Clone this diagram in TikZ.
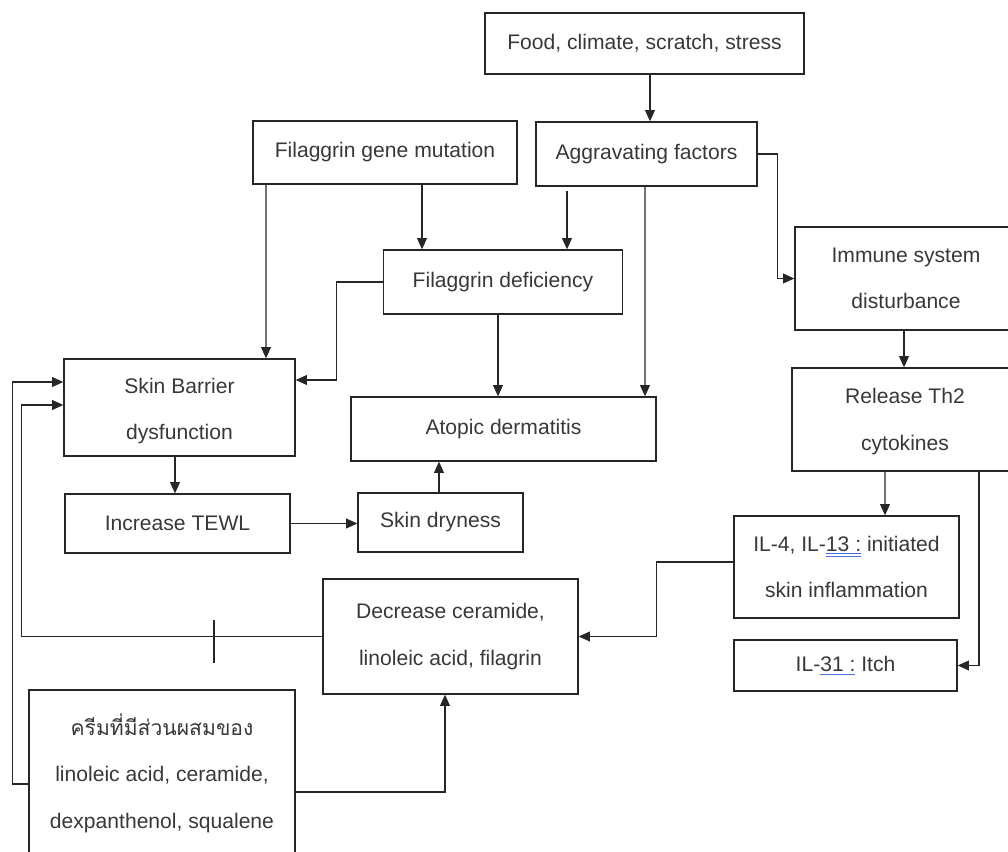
\documentclass[tikz,border=0pt]{standalone}
\usepackage{fontspec}
\setmainfont{Liberation Sans}
\newfontfamily\thaifont[Script=Thai]{Loma}
\usetikzlibrary{arrows.meta,calc,positioning}
\definecolor{gramblue}{RGB}{70,110,220}
\newcommand{\gramdbl}[1]{{\color{gramblue}\underline{\underline{\textcolor{black!78}{#1}}}}}
\newcommand{\gramone}[1]{{\color{gramblue}\underline{\textcolor{black!78}{#1}}}}

\begin{document}
\begin{tikzpicture}[x=0.025cm, y=-0.025cm,
        box/.style={draw=black!85, line width=0.9pt, rectangle, inner sep=0pt, align=center, text=black!78, font=\fontsize{15}{33}\selectfont},
        arr/.style={draw=black!85, line width=0.9pt, -{Triangle[length=8pt,width=7pt]}},
        ln/.style={draw=black!85, line width=0.9pt}]
        \useasboundingbox (0,0) rectangle (1008,852);
        \clip (0,0) rectangle (1008,852);

        \coordinate (cfood) at (644.5, 43.5);
        \coordinate (cfgm) at (385, 152.5);
        \coordinate (caggr) at (646.5, 154);
        \coordinate (cfdef) at (503, 282);
        \coordinate (catopic) at (503.5, 429);
        \coordinate (csbd) at (179.5, 407.5);
        \coordinate (ctewl) at (177.5, 523.5);
        \coordinate (cdry) at (440.5, 522.5);
        \coordinate (cimmune) at (906, 278.5);
        \coordinate (crelease) at (905, 419.5);
        \coordinate (cil4) at (846.5, 567);
        \coordinate (cil31) at (845.5, 665.5);
        \coordinate (cdecr) at (450.5, 636.5);
        \coordinate (ccream) at (162, 773);

        \node[box, minimum width=7.975cm, minimum height=1.525cm] (food) at (cfood) {Food, climate, scratch, stress};
        \node[box, minimum width=6.6cm, minimum height=1.575cm] (fgm) at (cfgm) {Filaggrin gene mutation};
        \node[box, minimum width=5.525cm, minimum height=1.6cm] (aggr) at (caggr) {Aggravating factors};
        \node[box, minimum width=5.975cm, minimum height=1.6cm] (fdef) at (cfdef) {Filaggrin deficiency};
        \node[box, minimum width=7.625cm, minimum height=1.6cm] (atopic) at (catopic) {Atopic dermatitis};
        \node[box, minimum width=5.775cm, minimum height=2.425cm] (sbd) at (csbd) {\rule{0pt}{16pt}Skin Barrier\\dysfunction};
        \node[box, minimum width=5.625cm, minimum height=1.475cm] (tewl) at (ctewl) {Increase TEWL};
        \node[box, minimum width=4.125cm, minimum height=1.475cm] (dry) at (cdry) {Skin dryness};
        \node[box, minimum width=5.55cm, minimum height=2.575cm] (immune) at (cimmune) {Immune system\\disturbance};
        \node[box, minimum width=5.65cm, minimum height=2.575cm] (release) at (crelease) {\rule{0pt}{14pt}Release Th2\\cytokines};
        \node[box, minimum width=5.625cm, minimum height=2.55cm] (il4) at (cil4) {IL-4, IL-\gramdbl{13 :} initiated\\skin inflammation};
        \node[box, minimum width=5.575cm, minimum height=1.275cm] (il31) at (cil31) {IL-\gramone{31 :} Itch};
        \node[box, minimum width=6.375cm, minimum height=2.875cm] (decr) at (cdecr) {Decrease ceramide,\\linoleic acid, filagrin};
        \node[box, minimum width=6.65cm, minimum height=4.15cm] (cream) at (ccream) {{\thaifont ครีมที่มีส่วนผสมของ}\\linoleic acid, ceramide,\\dexpanthenol, squalene};

        \coordinate (blockTop) at (214, 620);
        \coordinate (blockBot) at (214, 663);

        \draw[arr] ($(food.south)+(5.5,0)$) -- ($(aggr.north)+(3.5,0)$);
        \draw[arr] ($(fgm.south)+(37,0)$) -- ($(fdef.north)+(-81,0)$);
        \draw[arr] ($(fgm.south)+(-119,0)$) -- ($(sbd.north)+(86.5,0)$);
        \draw[arr] ($(aggr.south)+(-79.5,4)$) -- ($(fdef.north)+(64,0)$);
        \draw[arr] ($(aggr.south)+(-1.5,0)$) -- ($(atopic.north)+(141.5,0)$);
        \draw[arr] (aggr.east) -- ++(20,0) |- (immune.west);
        \draw[arr] (fdef.west) -- ++(-46,0) |- ($(sbd.east)+(0,-27.5)$);
        \draw[arr] ($(fdef.south)+(-5,0)$) -- ($(atopic.north)+(-5.5,0)$);
        \draw[arr] ($(sbd.south)+(-4.5,0)$) -- ($(tewl.north)+(-2.5,0)$);
        \draw[arr] (tewl.east) -- (tewl.east -| dry.west);
        \draw[arr] ($(dry.north)+(-1.5,0)$) -- ($(atopic.south)+(-64.5,0)$);
        \draw[arr] ($(immune.south)+(-2,0)$) -- ($(release.north)+(-1,0)$);
        \draw[arr] ($(release.south)+(-20,0)$) -- ($(il4.north)+(38.5,0)$);
        \draw[arr] ($(release.south)+(74,0)$) |- (il31.east);
        \draw[arr] ($(il4.west)+(0,-5)$) -- ++(-77,0) |- (decr.east);
        \draw[arr] (decr.west) -- ++(-301,0) |- ($(sbd.west)+(0,-2.5)$);
        \draw[arr] ($(cream.west)+(0,11)$) -- ++(-16,0) |- ($(sbd.west)+(0,-25.5)$);
        \draw[arr] ($(cream.east)+(0,19)$) -| ($(decr.south)+(-5.5,0)$);
        \draw[ln] (blockTop) -- (blockBot);
    \end{tikzpicture}
\end{document}
